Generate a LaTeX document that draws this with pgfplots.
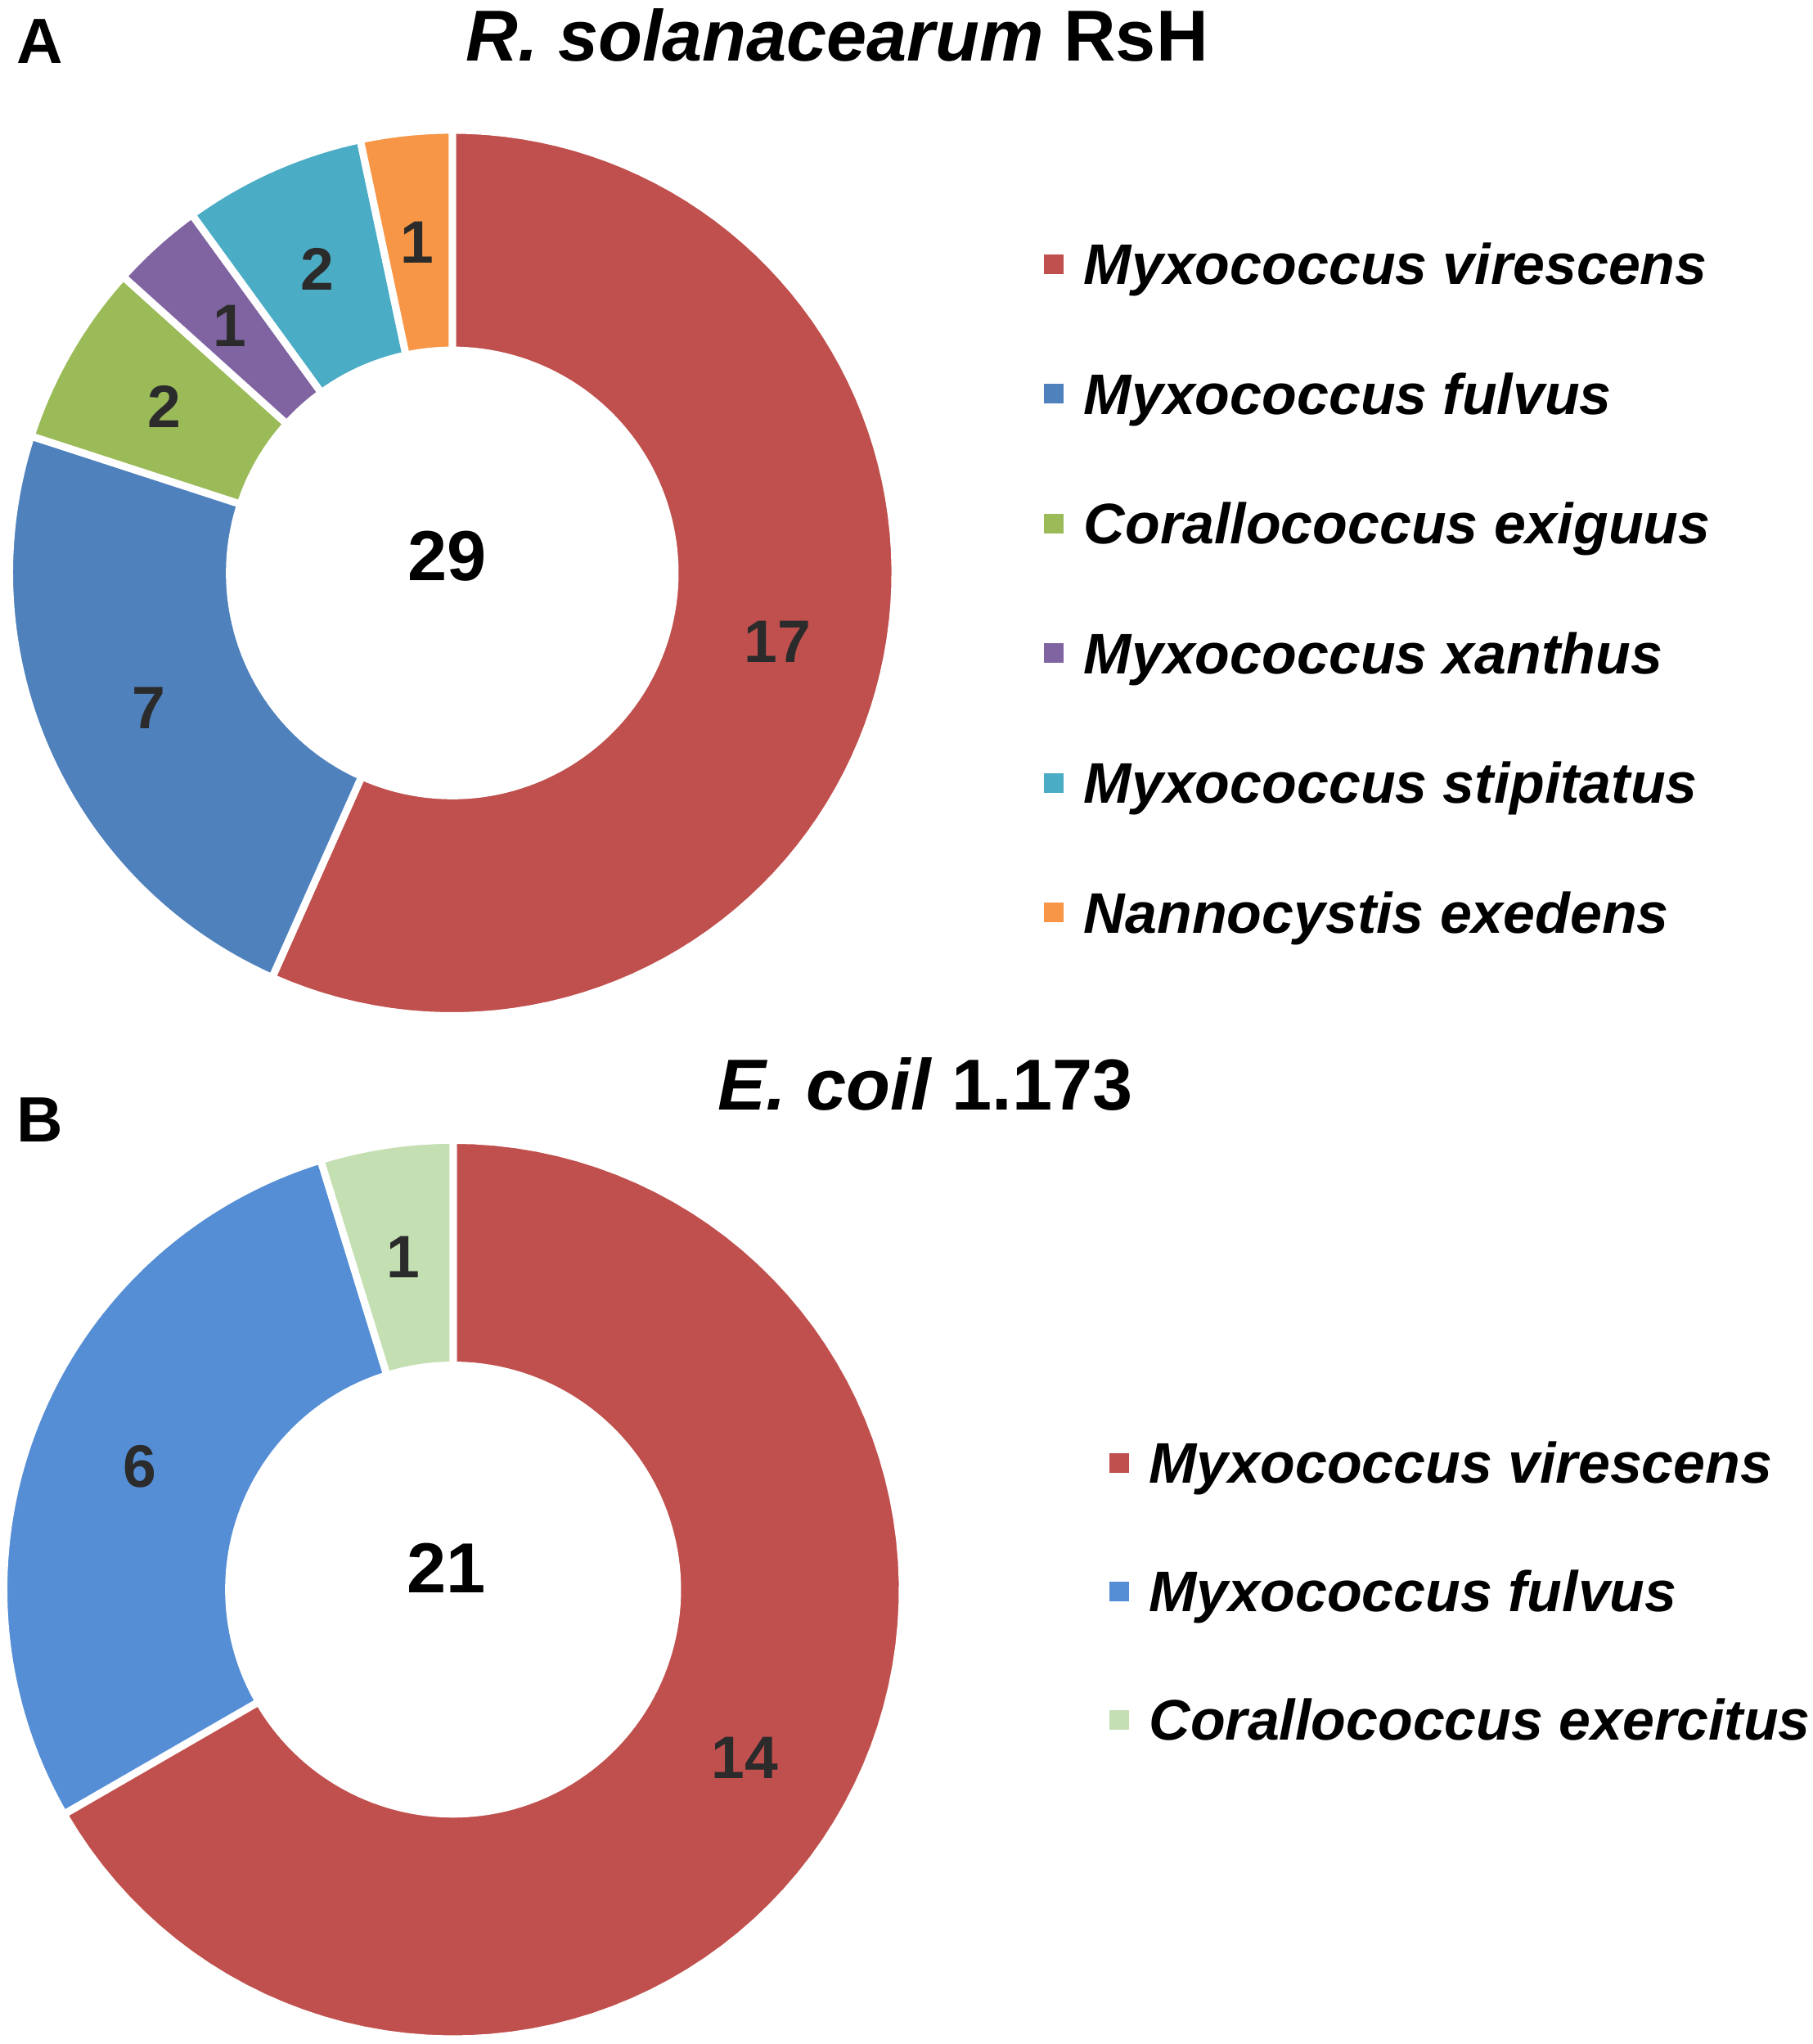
\documentclass[border=0pt]{standalone}
\usepackage{pgfplots}
\pgfplotsset{compat=1.18}
\usepackage{fontspec}
\setmainfont{Liberation Sans}

\definecolor{cRed}{HTML}{C0504D}
\definecolor{cBlue}{HTML}{4F81BD}
\definecolor{cGreen}{HTML}{9BBB59}
\definecolor{cPurple}{HTML}{8064A2}
\definecolor{cTeal}{HTML}{4BACC6}
\definecolor{cOrange}{HTML}{F79646}
\definecolor{cBlueB}{HTML}{558ED5}
\definecolor{cGreenB}{HTML}{C4DFB2}
\definecolor{cLabel}{HTML}{2B2B2B}

\tikzset{lbl/.style={inner sep=0pt, text=cLabel, font=\fontsize{22}{26}\selectfont\bfseries}}

% #1 colour, #2 count before this slice, #3 count of the slice, #4 total count
\newcommand{\slice}[4]{%
  \pgfmathsetmacro\aS{90-360*(#2)/(#4)}%
  \pgfmathsetmacro\aE{90-360*(#2+#3)/(#4)}%
  \pgfmathsetmacro\aM{(\aS+\aE)/2}%
  \pgfmathsetmacro\lx{\cx+\rl*cos(\aM)}%
  \pgfmathsetmacro\ly{\cy+\rl*sin(\aM)}%
  \edef\temp{\noexpand\addplot[fill=#1, draw=white, line width=2.7pt, domain=\aE:\aS, samples=90]
      ({\cx+\R*cos(x)}, {\cy+\R*sin(x)}) -- (axis cs:\cx,\cy) -- cycle;
    \noexpand\node[lbl] at (axis cs:\lx,\ly) {#3};}%
  \temp}

\pgfplotsset{
  donut/.style={
    width=665.1pt, height=749.4pt, scale only axis,
    xmin=0, xmax=2217, ymin=0, ymax=2498,
    axis lines=none, clip=false,
    legend cell align=left,
    legend image code/.code={\fill[##1, draw=none] (0pt,-3.6pt) rectangle (7.2pt,3.6pt);},
    legend style={anchor=north west, draw=none, fill=none, inner sep=0pt, outer sep=0pt,
      column sep=7.5pt,
      nodes={inner sep=0pt, text height=15pt, text depth=0pt},
      font=\fontsize{21}{25}\selectfont\bfseries\itshape},
  }
}

\begin{document}
\begin{tikzpicture}
% ---------------- Panel A ----------------
\def\cx{552}\def\cy{1800}\def\R{542}\def\r{277}\def\rl{407}
\begin{axis}[donut,
  legend style={at={(axis description cs:0.5756,0.8819)}, row sep=32.6pt}]
\path (axis cs:0,0) rectangle (axis cs:2217,2498);
\slice{cRed}{0}{17}{30}
\slice{cBlue}{17}{7}{30}
\slice{cGreen}{24}{2}{30}
\slice{cPurple}{26}{1}{30}
\slice{cTeal}{27}{2}{30}
\slice{cOrange}{29}{1}{30}
\addplot[fill=white, draw=none, domain=0:360, samples=180, forget plot]
  ({\cx+\r*cos(x)}, {\cy+\r*sin(x)}) -- cycle;
\node[inner sep=0pt, font=\fontsize{26}{30}\selectfont\bfseries] at (axis cs:546,1821) {29};
\node[anchor=base, font=\fontsize{26.5}{30}\selectfont\bfseries] at (axis cs:1023,2426) {\textit{R. solanacearum} RsH};
\node[anchor=base west, inner sep=0pt, font=\fontsize{23.5}{27}\selectfont\bfseries] at (axis cs:18,2423) {A};
\legend{Myxococcus virescens, Myxococcus fulvus, Corallococcus exiguus, Myxococcus xanthus, Myxococcus stipitatus, Nannocystis exedens}
\end{axis}
% ---------------- Panel B ----------------
\def\cx{553}\def\cy{556}\def\R{550}\def\r{279}\def\rl{412}
\begin{axis}[donut,
  legend style={at={(axis description cs:0.6116,0.2946)}, row sep=32.1pt}]
\slice{cRed}{0}{14}{21}
\slice{cBlueB}{14}{6}{21}
\slice{cGreenB}{20}{1}{21}
\addplot[fill=white, draw=none, domain=0:360, samples=180, forget plot]
  ({\cx+\r*cos(x)}, {\cy+\r*sin(x)}) -- cycle;
\node[inner sep=0pt, font=\fontsize{26}{30}\selectfont\bfseries] at (axis cs:545,582) {21};
\node[anchor=base, font=\fontsize{26.5}{30}\selectfont\bfseries] at (axis cs:1131,1143) {\textit{E. coil} 1.173};
\node[anchor=base west, inner sep=0pt, font=\fontsize{23.5}{27}\selectfont\bfseries] at (axis cs:18,1104) {B};
\legend{Myxococcus virescens, Myxococcus fulvus, Corallococcus exercitus}
\end{axis}
\end{tikzpicture}
\end{document}
